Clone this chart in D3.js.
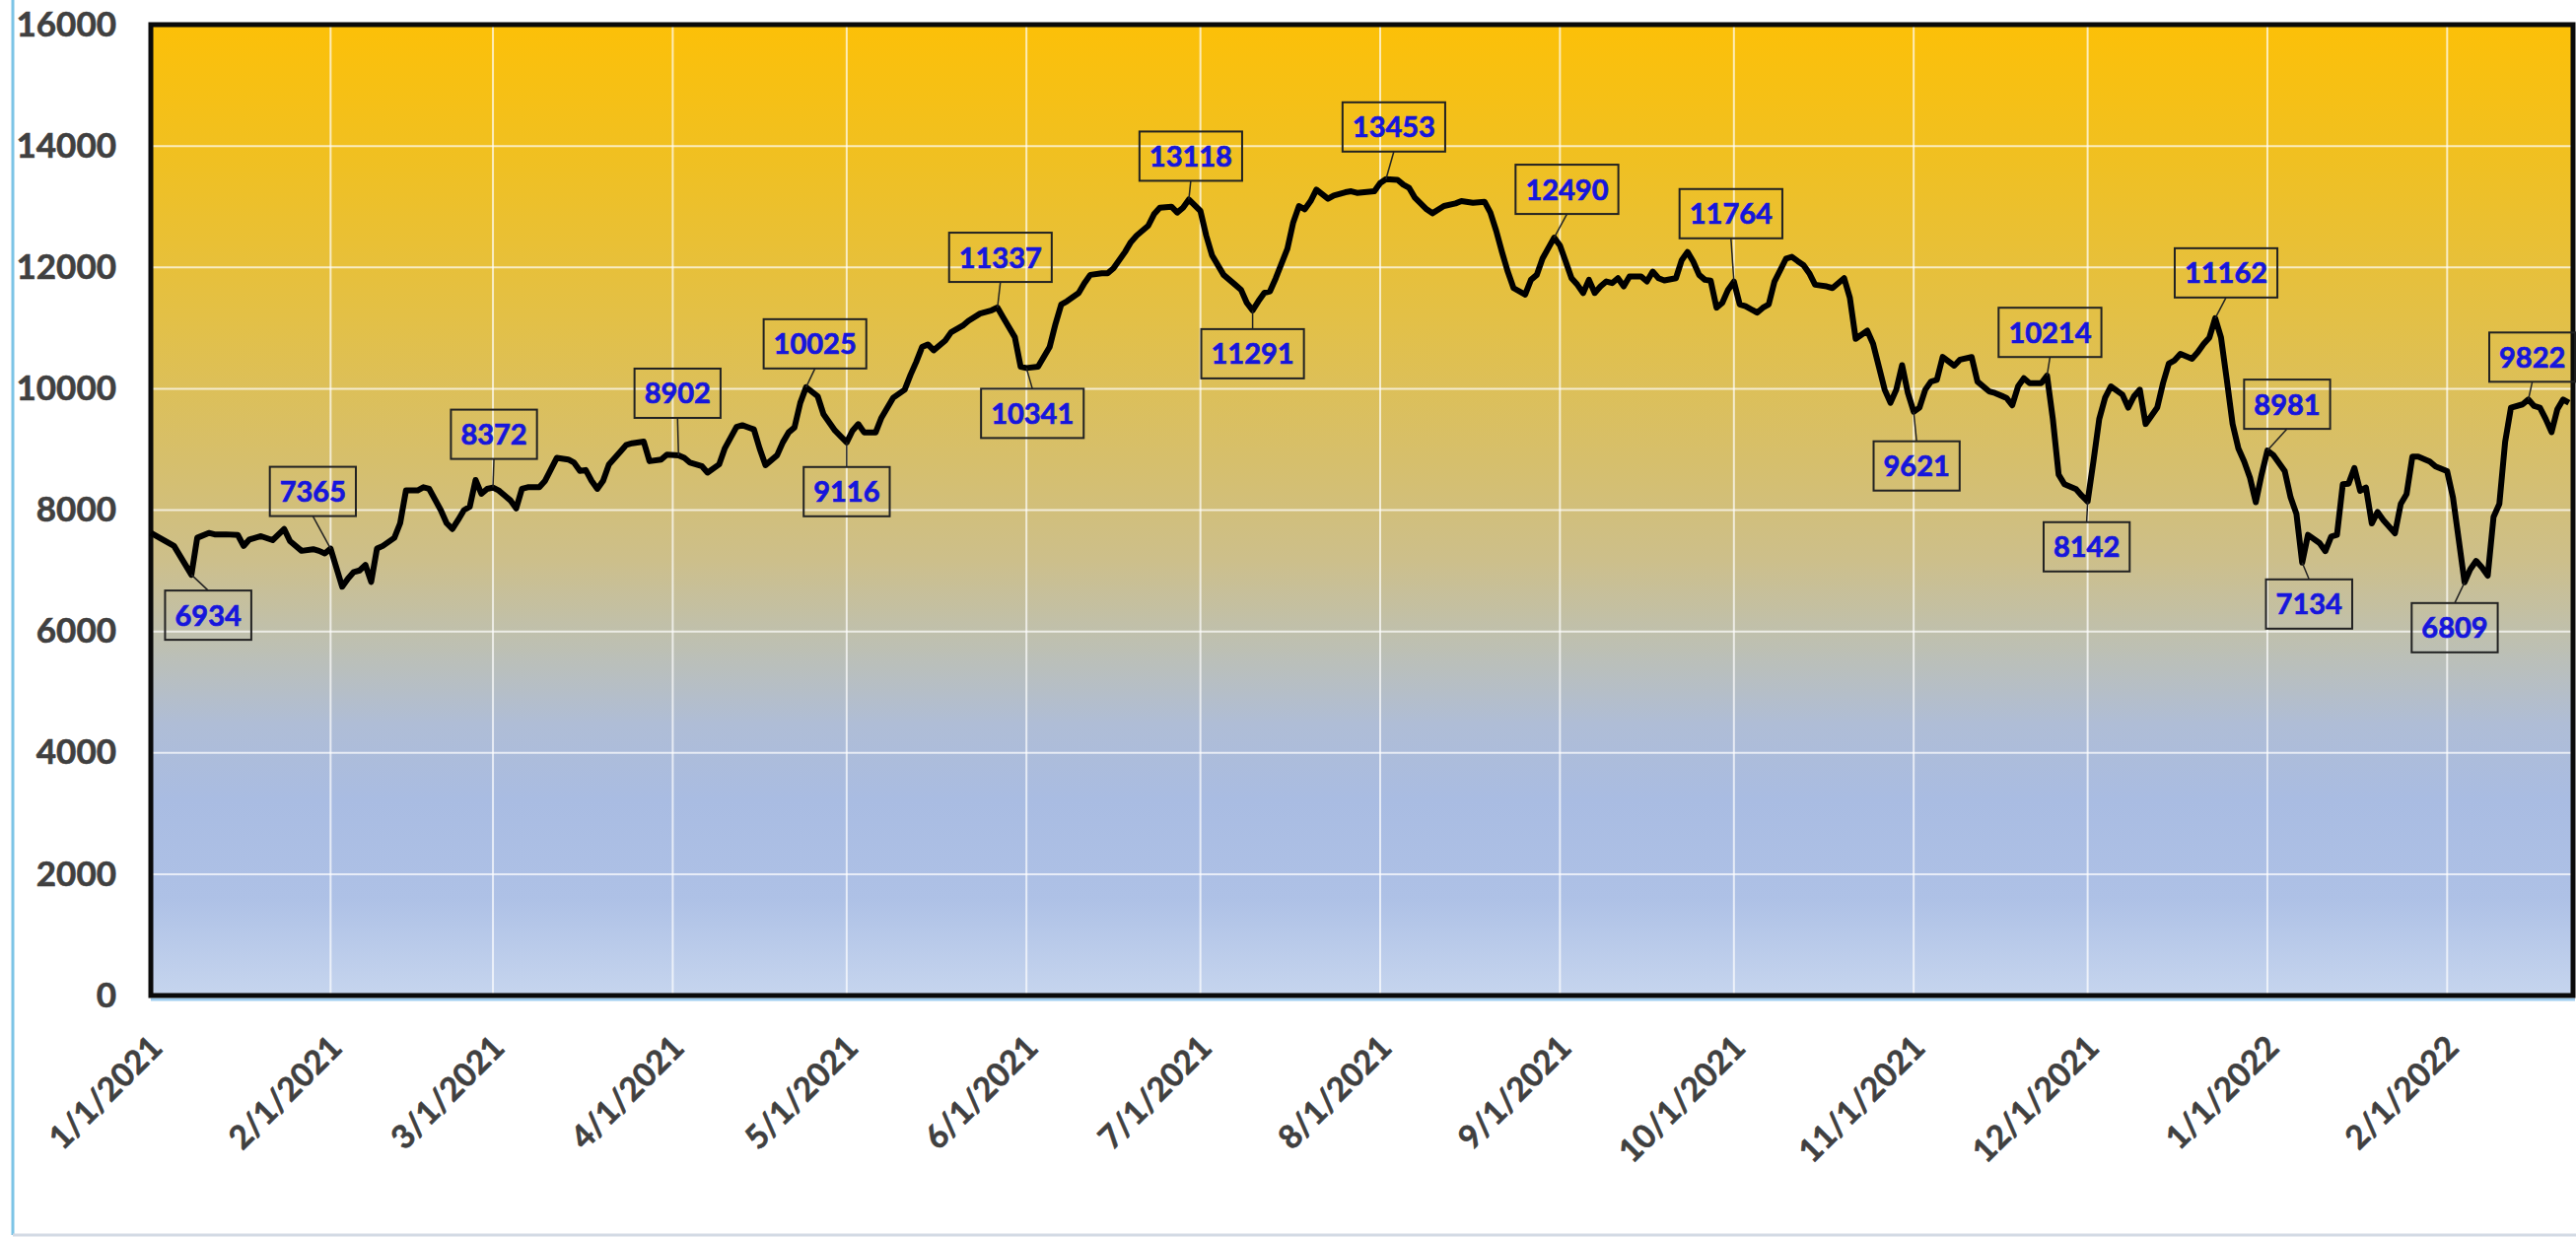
<!DOCTYPE html>
<html>
<head>
<meta charset="utf-8">
<script src="https://cdn.jsdelivr.net/npm/d3@7"></script>
<style>
  body { margin: 0; background: #fff; }
  svg { display: block; }
</style>
</head>
<body>
<svg id="chart" width="2613" height="1256"></svg>
<script>
// daily closes
var dates = [
	'2021-01-01','2021-01-05','2021-01-08','2021-01-09','2021-01-11','2021-01-12','2021-01-14','2021-01-16','2021-01-17','2021-01-18',
	'2021-01-20','2021-01-22','2021-01-24','2021-01-25','2021-01-27','2021-01-29','2021-01-30','2021-01-31','2021-02-01','2021-02-03',
	'2021-02-04','2021-02-05','2021-02-06','2021-02-07','2021-02-08','2021-02-09','2021-02-10','2021-02-12','2021-02-13','2021-02-14',
	'2021-02-16','2021-02-17','2021-02-18','2021-02-20','2021-02-21','2021-02-22','2021-02-23','2021-02-24','2021-02-25','2021-02-26',
	'2021-02-27','2021-02-28','2021-03-01','2021-03-02','2021-03-04','2021-03-05','2021-03-06','2021-03-07','2021-03-09','2021-03-10',
	'2021-03-11','2021-03-12','2021-03-14','2021-03-15','2021-03-16','2021-03-17','2021-03-18','2021-03-19','2021-03-20','2021-03-21',
	'2021-03-23','2021-03-24','2021-03-25','2021-03-27','2021-03-28','2021-03-30','2021-03-31','2021-04-02','2021-04-03','2021-04-04',
	'2021-04-06','2021-04-07','2021-04-09','2021-04-10','2021-04-12','2021-04-13','2021-04-15','2021-04-16','2021-04-17','2021-04-19',
	'2021-04-20','2021-04-21','2021-04-22','2021-04-23','2021-04-24','2021-04-26','2021-04-27','2021-04-29','2021-05-01','2021-05-02',
	'2021-05-03','2021-05-04','2021-05-06','2021-05-07','2021-05-08','2021-05-09','2021-05-11','2021-05-12','2021-05-13','2021-05-14',
	'2021-05-15','2021-05-16','2021-05-18','2021-05-19','2021-05-21','2021-05-22','2021-05-24','2021-05-26','2021-05-27','2021-05-28',
	'2021-05-30','2021-05-31','2021-06-01','2021-06-03','2021-06-05','2021-06-06','2021-06-07','2021-06-08','2021-06-10','2021-06-11',
	'2021-06-12','2021-06-14','2021-06-15','2021-06-16','2021-06-18','2021-06-19','2021-06-20','2021-06-22','2021-06-23','2021-06-24',
	'2021-06-26','2021-06-27','2021-06-28','2021-06-29','2021-07-01','2021-07-02','2021-07-03','2021-07-05','2021-07-07','2021-07-08',
	'2021-07-09','2021-07-10','2021-07-11','2021-07-12','2021-07-13','2021-07-14','2021-07-16','2021-07-17','2021-07-18','2021-07-19',
	'2021-07-20','2021-07-21','2021-07-23','2021-07-24','2021-07-26','2021-07-27','2021-07-28','2021-07-31','2021-08-01','2021-08-02',
	'2021-08-04','2021-08-05','2021-08-06','2021-08-07','2021-08-09','2021-08-10','2021-08-12','2021-08-14','2021-08-15','2021-08-17',
	'2021-08-19','2021-08-20','2021-08-21','2021-08-22','2021-08-23','2021-08-24','2021-08-26','2021-08-27','2021-08-28','2021-08-29',
	'2021-08-31','2021-09-01','2021-09-02','2021-09-03','2021-09-04','2021-09-05','2021-09-06','2021-09-07','2021-09-08','2021-09-09',
	'2021-09-10','2021-09-11','2021-09-12','2021-09-13','2021-09-15','2021-09-16','2021-09-17','2021-09-18','2021-09-19','2021-09-21',
	'2021-09-22','2021-09-23','2021-09-24','2021-09-25','2021-09-26','2021-09-27','2021-09-28','2021-09-29','2021-09-30','2021-10-01',
	'2021-10-02','2021-10-03','2021-10-05','2021-10-06','2021-10-07','2021-10-08','2021-10-10','2021-10-11','2021-10-12','2021-10-13',
	'2021-10-14','2021-10-15','2021-10-17','2021-10-18','2021-10-19','2021-10-20','2021-10-21','2021-10-22','2021-10-24','2021-10-25',
	'2021-10-26','2021-10-27','2021-10-28','2021-10-29','2021-10-30','2021-10-31','2021-11-01','2021-11-02','2021-11-03','2021-11-04',
	'2021-11-05','2021-11-06','2021-11-08','2021-11-09','2021-11-11','2021-11-12','2021-11-14','2021-11-15','2021-11-17','2021-11-18',
	'2021-11-19','2021-11-20','2021-11-21','2021-11-23','2021-11-24','2021-11-25','2021-11-26','2021-11-27','2021-11-29','2021-11-30',
	'2021-12-01','2021-12-02','2021-12-03','2021-12-04','2021-12-05','2021-12-07','2021-12-08','2021-12-09','2021-12-10','2021-12-11',
	'2021-12-13','2021-12-14','2021-12-15','2021-12-16','2021-12-17','2021-12-19','2021-12-20','2021-12-21','2021-12-22','2021-12-23',
	'2021-12-24','2021-12-25','2021-12-26','2021-12-27','2021-12-28','2021-12-29','2021-12-30','2021-12-31','2022-01-01','2022-01-02',
	'2022-01-04','2022-01-05','2022-01-06','2022-01-07','2022-01-08','2022-01-10','2022-01-11','2022-01-12','2022-01-13','2022-01-14',
	'2022-01-15','2022-01-16','2022-01-17','2022-01-18','2022-01-19','2022-01-20','2022-01-21','2022-01-23','2022-01-24','2022-01-25',
	'2022-01-26','2022-01-27','2022-01-29','2022-01-30','2022-02-01','2022-02-02','2022-02-03','2022-02-04','2022-02-05','2022-02-06',
	'2022-02-07','2022-02-08','2022-02-09','2022-02-10','2022-02-11','2022-02-12','2022-02-14','2022-02-15','2022-02-16','2022-02-17',
	'2022-02-18','2022-02-19','2022-02-20','2022-02-21','2022-02-22'
];

var values = [
	7624, 7409, 6934, 7543, 7624, 7600, 7600, 7590, 7409, 7516,
	7570, 7505, 7688, 7489, 7328, 7355, 7328, 7285, 7365, 6737,
	6871, 6979, 7005, 7097, 6817, 7366, 7409, 7543, 7785, 8323,
	8323, 8376, 8350, 8000, 7785, 7688, 7839, 8000, 8054, 8495,
	8269, 8350, 8372, 8323, 8161, 8027, 8350, 8376, 8376, 8484,
	8672, 8860, 8833, 8780, 8645, 8660, 8484, 8350, 8484, 8753,
	8968, 9075, 9102, 9129, 8806, 8833, 8914, 8902, 8860, 8780,
	8726, 8618, 8753, 9022, 9371, 9398, 9330, 9011, 8741, 8903,
	9119, 9281, 9362, 9768, 10025, 9876, 9579, 9308, 9116, 9308,
	9416, 9281, 9281, 9524, 9687, 9849, 9984, 10227, 10443, 10687,
	10730, 10633, 10795, 10930, 11038, 11119, 11238, 11292, 11337, 11173,
	10849, 10362, 10341, 10362, 10687, 11065, 11389, 11443, 11578, 11741,
	11876, 11903, 11903, 11984, 12254, 12416, 12524, 12686, 12876, 12984,
	13000, 12903, 12984, 13118, 12930, 12524, 12200, 11876, 11714, 11632,
	11416, 11291, 11443, 11578, 11605, 11822, 12308, 12740, 13011, 12957,
	13092, 13281, 13130, 13184, 13238, 13254, 13227, 13254, 13389, 13453,
	13443, 13362, 13308, 13146, 12957, 12892, 13011, 13054, 13092, 13065,
	13081, 12903, 12605, 12254, 11930, 11659, 11551, 11795, 11876, 12146,
	12490, 12362, 12092, 11822, 11714, 11578, 11795, 11578, 11686, 11768,
	11741, 11822, 11686, 11849, 11849, 11768, 11930, 11822, 11784, 11822,
	12119, 12254, 12092, 11876, 11795, 11780, 11335, 11416, 11632, 11764,
	11389, 11362, 11254, 11335, 11389, 11768, 12146, 12173, 12103, 12038,
	11903, 11714, 11686, 11659, 11741, 11822, 11497, 10822, 10957, 10741,
	10362, 9984, 9768, 9984, 10389, 9930, 9621, 9687, 9984, 10119,
	10146, 10524, 10380, 10478, 10521, 10118, 9957, 9930, 9849, 9726,
	10038, 10172, 10091, 10091, 10214, 9500, 8586, 8425, 8344, 8237,
	8142, 8801, 9500, 9849, 10038, 9903, 9688, 9876, 9984, 9419,
	9688, 10091, 10414, 10468, 10575, 10495, 10602, 10737, 10844, 11162,
	10844, 10145, 9419, 9016, 8801, 8532, 8129, 8586, 8981, 8909,
	8640, 8210, 7941, 7134, 7592, 7457, 7323, 7565, 7592, 8425,
	8436, 8694, 8317, 8371, 7780, 7968, 7833, 7618, 8102, 8263,
	8882, 8882, 8801, 8720, 8640, 8210, 7511, 6809, 7027, 7162,
	7054, 6920, 7887, 8102, 9124, 9688, 9742, 9822, 9715, 9688,
	9500, 9285, 9661, 9823, 9769
];

var yTicks = [ 0, 2000, 4000, 6000, 8000, 10000, 12000, 14000, 16000 ];

// points that carry a value callout
var labelDates = [
	'2021-01-08','2021-02-01','2021-03-01','2021-04-02','2021-04-24','2021-05-01','2021-05-27',
	'2021-06-01','2021-06-29','2021-07-10','2021-08-02','2021-08-31','2021-10-01','2021-11-01',
	'2021-11-24','2021-12-01','2021-12-23','2022-01-01','2022-01-07','2022-02-04','2022-02-15'
];

// where each callout box sits, relative to its point (px)
var labelOffsets = [
	[ 17, 41 ], [ -18, -58 ], [ 1, -54 ], [ -1, -63 ], [ 9, -44 ], [ 0, 50 ], [ 3, -51 ],
	[ 6, 46 ], [ 2, -44 ], [ 0, 44 ], [ 8, -53 ], [ 13, -49 ], [ -3, -69 ], [ 3, 55 ],
	[ 3, -44 ], [ -1, 46 ], [ 11, -46 ], [ 20, -47 ], [ 7, 42 ], [ -10, 46 ], [ 4, -43 ]
];

var parse = d3.timeParse( '%Y-%m-%d' );
var series = dates.map( function( d, i ) { return { date: parse( d ), value: values[ i ] }; } );
var byDate = {};
series.forEach( function( d ) { byDate[ +d.date ] = d; } );

var plotL = 153, plotT = 25, plotR = 2610, plotB = 1010;

var x = d3.scaleTime()
	.domain( [ new Date( 2021, 0, 1 ), new Date( 2022, 1, 22, 17 ) ] )
	.range( [ plotL, plotR ] );
var y = d3.scaleLinear().domain( [ 0, 16000 ] ).range( [ plotB, plotT ] );

var svg = d3.select( '#chart' );

var grad = svg.append( 'defs' ).append( 'linearGradient' )
	.attr( 'id', 'bg' ).attr( 'x1', 0 ).attr( 'y1', 0 ).attr( 'x2', 0 ).attr( 'y2', 1 );
[
	[ 0, '#fcc008' ], [ 0.15, '#efc024' ], [ 0.3, '#e3c046' ], [ 0.45, '#d6bf6c' ],
	[ 0.55, '#cdbf8a' ], [ 0.63, '#bfc0ae' ], [ 0.72, '#afbdd6' ], [ 0.8, '#a9bce2' ],
	[ 0.9, '#aec1e6' ], [ 1, '#c6d5ee' ]
].forEach( function( s ) {
	grad.append( 'stop' ).attr( 'offset', s[ 0 ] ).attr( 'stop-color', s[ 1 ] );
} );

// outer chart frame
svg.append( 'line' ).attr( 'x1', 13 ).attr( 'x2', 13 ).attr( 'y1', 0 ).attr( 'y2', 1253 )
	.style( 'stroke', '#7cc4e6' ).style( 'stroke-width', 3 );
svg.append( 'line' ).attr( 'x1', 13 ).attr( 'x2', 2613 ).attr( 'y1', 1253 ).attr( 'y2', 1253 )
	.style( 'stroke', '#d3dae4' ).style( 'stroke-width', 3 );

svg.append( 'rect' )
	.attr( 'x', plotL ).attr( 'y', plotT )
	.attr( 'width', plotR - plotL ).attr( 'height', plotB - plotT )
	.style( 'fill', 'url(#bg)' );

// grid
svg.append( 'g' ).selectAll( 'line' ).data( yTicks.slice( 1, -1 ) )
	.enter().append( 'line' )
	.attr( 'x1', plotL ).attr( 'x2', plotR )
	.attr( 'y1', function( d ) { return y( d ); } )
	.attr( 'y2', function( d ) { return y( d ); } )
	.style( 'stroke', 'rgba(255,255,255,0.7)' ).style( 'stroke-width', 2 );

var months = d3.timeMonth.range( new Date( 2021, 1, 1 ), x.domain()[ 1 ] );
svg.append( 'g' ).selectAll( 'line' ).data( months )
	.enter().append( 'line' )
	.attr( 'x1', function( d ) { return x( d ); } )
	.attr( 'x2', function( d ) { return x( d ); } )
	.attr( 'y1', plotT ).attr( 'y2', plotB )
	.style( 'stroke', 'rgba(255,255,255,0.7)' ).style( 'stroke-width', 2 );

// axes
var yAxis = svg.append( 'g' )
	.attr( 'transform', 'translate(' + plotL + ',0)' )
	.call( d3.axisLeft( y ).tickValues( yTicks ).tickFormat( d3.format( 'd' ) )
		.tickSize( 0 ).tickPadding( 35 ) );
yAxis.select( '.domain' ).remove();
yAxis.selectAll( 'text' )
	.style( 'font-family', 'Lato, sans-serif' ).style( 'font-weight', 700 )
	.style( 'font-size', '35px' ).style( 'fill', '#404040' )
	.style( 'stroke', '#404040' ).style( 'stroke-width', 0.6 );

var xAxis = svg.append( 'g' )
	.attr( 'transform', 'translate(0,' + plotB + ')' )
	.call( d3.axisBottom( x ).ticks( d3.timeMonth.every( 1 ) )
		.tickFormat( d3.timeFormat( '%-m/%-d/%Y' ) ).tickSize( 0 ) );
xAxis.select( '.domain' ).remove();
xAxis.selectAll( 'text' )
	.attr( 'y', 0 ).attr( 'dy', 0 )
	.attr( 'transform', 'translate(13,55) rotate(-45)' )
	.style( 'text-anchor', 'end' )
	.style( 'font-family', 'Lato, sans-serif' ).style( 'font-weight', 700 )
	.style( 'font-size', '33px' ).style( 'fill', '#404040' )
	.style( 'stroke', '#404040' ).style( 'stroke-width', 0.6 );

// plot border
svg.append( 'line' ).attr( 'x1', plotL ).attr( 'x2', plotR + 2 ).attr( 'y1', plotB + 4 ).attr( 'y2', plotB + 4 )
	.style( 'stroke', '#9fcdf0' ).style( 'stroke-width', 3 );
svg.append( 'rect' )
	.attr( 'x', plotL ).attr( 'y', plotT )
	.attr( 'width', plotR - plotL ).attr( 'height', plotB - plotT )
	.style( 'fill', 'none' ).style( 'stroke', '#0a0a0a' ).style( 'stroke-width', 5 );

// the series
var line = d3.line()
	.x( function( d ) { return x( d.date ); } )
	.y( function( d ) { return y( d.value ); } );

svg.append( 'path' ).datum( series )
	.attr( 'd', line )
	.style( 'fill', 'none' ).style( 'stroke', '#000' )
	.style( 'stroke-width', 6 ).style( 'stroke-linejoin', 'round' );

// callouts
svg.append( 'g' ).selectAll( 'g' ).data( labelDates )
	.enter().append( 'g' )
	.each( function( ds, i ) {
		var p = byDate[ +parse( ds ) ];
		var px = x( p.date ), py = y( p.value );
		var cx = px + labelOffsets[ i ][ 0 ], cy = py + labelOffsets[ i ][ 1 ];
		var g = d3.select( this );
		var txt = g.append( 'text' )
			.attr( 'x', cx ).attr( 'y', cy ).attr( 'dy', '0.36em' )
			.style( 'text-anchor', 'middle' )
			.style( 'font-family', 'Lato, sans-serif' ).style( 'font-weight', 700 )
			.style( 'font-size', '29px' ).style( 'fill', '#1616dc' )
			.style( 'stroke', '#1616dc' ).style( 'stroke-width', 0.7 )
			.text( p.value );
		var w = txt.node().getBBox().width + 20, h = 50;
		g.insert( 'rect', 'text' )
			.attr( 'x', cx - w / 2 ).attr( 'y', cy - h / 2 )
			.attr( 'width', w ).attr( 'height', h )
			.style( 'fill', 'none' ).style( 'stroke', '#222' ).style( 'stroke-width', 2 );
		var ey = cy > py ? cy - h / 2 : cy + h / 2;
		g.insert( 'line', 'rect' )
			.attr( 'x1', px ).attr( 'y1', py )
			.attr( 'x2', cx ).attr( 'y2', ey )
			.style( 'stroke', '#222' ).style( 'stroke-width', 1.5 );
	} );
</script>
</body>
</html>
